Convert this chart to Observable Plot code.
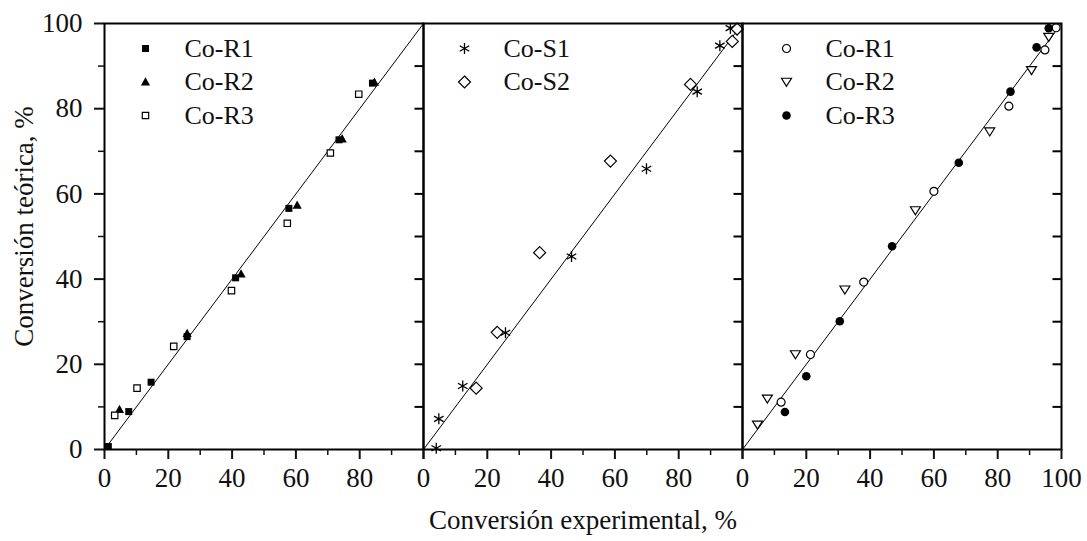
<!DOCTYPE html>
<html>
<head>
<meta charset="utf-8">
<script src="https://cdn.jsdelivr.net/npm/d3@7"></script>
<script src="https://cdn.jsdelivr.net/npm/@observablehq/plot@0.6"></script>
<style>
  html, body { margin: 0; padding: 0; background: #fff; }
</style>
</head>
<body>
<div id="chart"></div>
<script>
// Three side-by-side panels sharing the y axis
const panels = ["R", "S", "RS"];

// Axis ticks
const majorTicks = [0, 20, 40, 60, 80, 100];
const minorTicks = [10, 30, 50, 70, 90];
const innerTicks = [10, 20, 30, 40, 50, 60, 70, 80, 90];
const xLabelsOpen = [0, 20, 40, 60, 80];        // panels whose 100 is the next panel's 0
const xLabelsLast = [0, 20, 40, 60, 80, 100];

// Parity line
const parity = [0, 100];

// [experimental, theoretical] conversion, %
const coR1Left  = [[1.2, 0.7], [7.6, 8.9], [14.6, 15.8], [25.9, 26.5], [41.1, 40.3], [57.8, 56.6], [73.5, 72.7], [84.0, 86.0]];
const coR2Left  = [[4.7, 9.4], [25.9, 27.2], [42.8, 41.2], [60.4, 57.3], [74.5, 72.9], [84.6, 86.2]];
const coR3Left  = [[3.2, 8.0], [10.2, 14.4], [21.7, 24.2], [39.8, 37.3], [57.3, 53.1], [70.8, 69.6], [79.7, 83.4]];
const coS1      = [[4.0, 0.3], [4.8, 7.2], [12.3, 14.9], [25.7, 27.4], [46.4, 45.3], [69.9, 65.9], [85.8, 84.0], [92.9, 94.8], [96.2, 98.9]];
const coS2      = [[16.5, 14.4], [23.1, 27.5], [36.4, 46.2], [58.6, 67.7], [83.7, 85.7], [96.8, 95.8], [98.3, 98.7]];
const coR1Right = [[12.1, 11.1], [21.3, 22.3], [38.0, 39.3], [60.0, 60.6], [83.5, 80.6], [94.8, 93.8], [98.3, 99.0]];
const coR2Right = [[4.7, 5.8], [7.8, 11.9], [16.6, 22.3], [32.1, 37.5], [54.2, 56.1], [77.5, 74.6], [90.6, 89.0], [96.0, 96.8]];
const coR3Right = [[13.3, 8.8], [20.0, 17.2], [30.5, 30.1], [46.9, 47.7], [67.8, 67.3], [84.0, 84.0], [92.2, 94.4], [96.0, 98.9]];

// Marker shapes (size is the area Plot derives from r)
const rad = size => Math.sqrt(size / Math.PI);
const square = {draw(c, s) { const r = rad(s); c.rect(-r, -r, 2 * r, 2 * r); }};
const circle = {draw(c, s) { const r = rad(s); c.moveTo(r, 0); c.arc(0, 0, r, 0, 2 * Math.PI); }};
const triUp = {draw(c, s) { const r = rad(s); c.moveTo(0, -r * 1.05); c.lineTo(r, r * 0.75); c.lineTo(-r, r * 0.75); c.closePath(); }};
const triDown = {draw(c, s) { const r = rad(s); c.moveTo(0, r * 0.85); c.lineTo(r, -r * 0.75); c.lineTo(-r, -r * 0.75); c.closePath(); }};
const diamond = {draw(c, s) { const r = rad(s); c.moveTo(0, -r); c.lineTo(r, 0); c.lineTo(0, r); c.lineTo(-r, 0); c.closePath(); }};
const asterisk = {draw(c, s) {
  const r = rad(s), a = r * Math.cos(Math.PI / 6), b = r * 0.5;
  c.moveTo(0, -r); c.lineTo(0, r);
  c.moveTo(-a, -b); c.lineTo(a, b);
  c.moveTo(-a, b); c.lineTo(a, -b);
}};
const tickLeft = {draw(c, s) { const r = rad(s); c.moveTo(0, 0); c.lineTo(-r, 0); }};

const markStyles = {
  squareFilled:   {symbol: square,  r: 3.5, fill: "black", stroke: "none"},
  triangleFilled: {symbol: triUp,   r: 4.6, fill: "black", stroke: "none"},
  squareOpen:     {symbol: square,  r: 3.2, fill: "white", stroke: "black", strokeWidth: 1.2},
  asterisk:       {symbol: asterisk, r: 5.5, fill: "none", stroke: "black", strokeWidth: 1.3},
  diamondOpen:    {symbol: diamond, r: 6,   fill: "white", stroke: "black", strokeWidth: 1.2},
  circleOpen:     {symbol: circle,  r: 4,   fill: "white", stroke: "black", strokeWidth: 1.2},
  triangleOpen:   {symbol: triDown, r: 5,   fill: "white", stroke: "black", strokeWidth: 1.2},
  circleFilled:   {symbol: circle,  r: 4.3, fill: "black", stroke: "none"}
};

const seriesList = [
  {panel: "R",  name: "Co-R1", values: coR1Left,  style: "squareFilled"},
  {panel: "R",  name: "Co-R2", values: coR2Left,  style: "triangleFilled"},
  {panel: "R",  name: "Co-R3", values: coR3Left,  style: "squareOpen"},
  {panel: "S",  name: "Co-S1", values: coS1,      style: "asterisk"},
  {panel: "S",  name: "Co-S2", values: coS2,      style: "diamondOpen"},
  {panel: "RS", name: "Co-R1", values: coR1Right, style: "circleOpen"},
  {panel: "RS", name: "Co-R2", values: coR2Right, style: "triangleOpen"},
  {panel: "RS", name: "Co-R3", values: coR3Right, style: "circleFilled"}
];

const xLabelRows = panels.flatMap(p =>
  (p === "RS" ? xLabelsLast : xLabelsOpen).map(v => ({panel: p, value: v})));

// Scatter marks, one per series
const pointMarks = seriesList.map(s =>
  Plot.dot(s.values.map(([x, y]) => ({panel: s.panel, x, y})),
    {fx: "panel", x: "x", y: "y", ...markStyles[s.style]}));

// Legend inside the top-left corner of each panel
const legendMarks = panels.flatMap(p => {
  const rows = seriesList.filter(s => s.panel === p);
  const symDx = p === "RS" ? 44 : 41, txtDx = p === "RS" ? 83 : 80;
  return rows.flatMap((s, i) => {
    const dy = 25 + i * 33.5;
    return [
      Plot.dot([s], {fx: "panel", frameAnchor: "top-left", dx: symDx, dy, ...markStyles[s.style]}),
      Plot.text([s], {fx: "panel", text: "name", frameAnchor: "top-left", dx: txtDx, dy,
        textAnchor: "start", lineAnchor: "middle", fontSize: 26, fill: "#111"})
    ];
  });
});

const chart = Plot.plot({
  width: 1087,
  height: 541,
  marginLeft: 104,
  marginRight: 26,
  marginTop: 23,
  marginBottom: 92,
  style: {fontFamily: "'Liberation Serif', 'Times New Roman', serif", fontSize: "27px", color: "#111", background: "#fff"},
  fx: {domain: panels, padding: 0, axis: null},
  x: {domain: [0, 100]},
  y: {domain: [0, 100]},
  marks: [
    Plot.line(parity, {x: d => d, y: d => d, stroke: "black", strokeWidth: 1}),
    ...pointMarks,
    ...legendMarks,
    // inward ticks on the right edge of each panel
    Plot.dot(innerTicks, {x: () => 100, y: d => d, symbol: tickLeft, r: 9, fill: "none", stroke: "black", strokeWidth: 2}),
    Plot.frame({stroke: "black", strokeWidth: 2}),
    Plot.axisY(majorTicks, {tickSize: 10, tickPadding: 12, strokeWidth: 2, label: null, fontSize: 27}),
    Plot.axisY(minorTicks, {tickSize: 6, strokeWidth: 1.5, label: null, tickFormat: () => ""}),
    Plot.axisX(majorTicks, {tickSize: 10, strokeWidth: 2, label: null, tickFormat: () => ""}),
    Plot.axisX(minorTicks, {tickSize: 6, strokeWidth: 1.5, label: null, tickFormat: () => ""}),
    Plot.text(xLabelRows, {fx: "panel", x: "value", text: d => String(d.value), frameAnchor: "bottom",
      dy: 29, lineAnchor: "middle", fontSize: 27, fill: "#111"}),
    Plot.text([{panel: "S", t: "Conversión experimental, %"}], {fx: "panel", text: "t", frameAnchor: "bottom",
      dy: 71, textAnchor: "middle", lineAnchor: "middle", fontSize: 27, fill: "#111"}),
    Plot.text([{panel: "R", t: "Conversión teórica, %"}], {fx: "panel", text: "t", frameAnchor: "left",
      dx: -80, dy: -10, rotate: -90, textAnchor: "middle", lineAnchor: "middle", fontSize: 27, fill: "#111"})
  ]
});

document.getElementById("chart").appendChild(chart);
</script>
</body>
</html>
